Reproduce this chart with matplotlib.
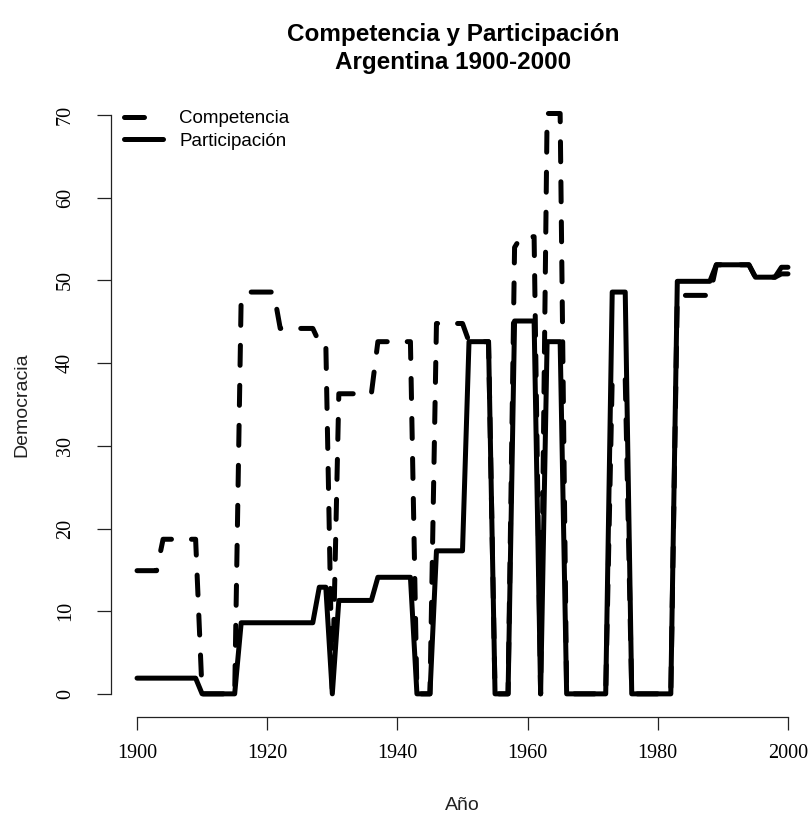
import matplotlib.pyplot as plt

years = list(range(1900, 2001))

competencia = [
    14.9, 14.9, 14.9, 14.9, 18.7, 18.7, 18.7, 18.7, 18.7, 18.7,  # 1900s
    0, 0, 0, 0, 0, 0, 48.0, 48.6, 48.6, 48.6,  # 1910s
    48.6, 48.6, 44.2, 44.2, 44.2, 44.2, 44.2, 44.2, 42.5, 42.5,  # 1920s
    0, 36.3, 36.3, 36.3, 36.3, 36.3, 36.3, 42.6, 42.6, 42.6,  # 1930s
    42.6, 42.6, 42.6, 0, 0, 0, 44.8, 44.8, 44.8, 44.8,  # 1940s
    44.8, 42.6, 42.6, 42.6, 42.6, 0, 0, 0, 54.0, 55.3,  # 1950s
    55.3, 55.3, 0, 70.2, 70.2, 70.2, 0, 0, 0, 0,  # 1960s
    0, 0, 0, 38.1, 38.1, 38.1, 0, 0, 0, 0,  # 1970s
    0, 0, 0, 48.2, 48.2, 48.2, 48.2, 48.2, 48.2, 51.9,  # 1980s
    51.9, 51.9, 51.9, 51.9, 51.9, 50.4, 50.4, 50.4, 50.4, 50.8,  # 1990s
    50.8,
]

participacion = [
    1.9, 1.9, 1.9, 1.9, 1.9, 1.9, 1.9, 1.9, 1.9, 1.9,
    0, 0, 0, 0, 0, 0, 8.6, 8.6, 8.6, 8.6,
    8.6, 8.6, 8.6, 8.6, 8.6, 8.6, 8.6, 8.6, 12.9, 12.9,
    0, 11.3, 11.3, 11.3, 11.3, 11.3, 11.3, 14.1, 14.1, 14.1,
    14.1, 14.1, 14.1, 0, 0, 0, 17.3, 17.3, 17.3, 17.3,
    17.3, 42.6, 42.6, 42.6, 42.6, 0, 0, 0, 45.1, 45.1,
    45.1, 45.1, 0, 42.6, 42.6, 42.6, 0, 0, 0, 0,
    0, 0, 0, 48.6, 48.6, 48.6, 0, 0, 0, 0,
    0, 0, 0, 49.9, 49.9, 49.9, 49.9, 49.9, 49.9, 51.9,
    51.9, 51.9, 51.9, 51.9, 51.9, 50.4, 50.4, 50.4, 50.4, 51.6,
    51.6,
]

x_ticks = [1900, 1920, 1940, 1960, 1980, 2000]
y_ticks = [0, 10, 20, 30, 40, 50, 60, 70]

W, H = 811, 817
fig = plt.figure(figsize=(W / 100, H / 100), dpi=100)
# plot region in pixels: left 111, top 92, bottom 717
ax = fig.add_axes([111 / W, (H - 717) / H, 703 / W, (717 - 92) / H])
ax.set_xlim(1896, 2004)
ax.set_ylim(-2.8, 72.8)

lw = 3.6
ax.plot(years, competencia, color="black", linewidth=lw, dashes=(4, 4),
        dash_capstyle="round", dash_joinstyle="round", label="Competencia")
ax.plot(years, participacion, color="black", linewidth=lw,
        solid_capstyle="round", solid_joinstyle="round", label="Participación")

for side in ["top", "right"]:
    ax.spines[side].set_visible(False)
ax.spines["bottom"].set_bounds(1900, 2000)
ax.spines["left"].set_bounds(0, 70)
for side in ["bottom", "left"]:
    ax.spines[side].set_linewidth(0.9)
    ax.spines[side].set_color("#222222")

ax.set_xticks(x_ticks)
ax.set_yticks(y_ticks)
ax.set_xticklabels([str(t) for t in x_ticks], family="Liberation Serif", fontsize=14.5)
ax.set_yticklabels([str(t) for t in y_ticks], family="Liberation Serif", fontsize=14.5,
                   rotation=90, va="center")
ax.tick_params(axis="x", length=9.5, width=0.9, pad=10, color="#222222")
ax.tick_params(axis="y", length=10, width=0.9, pad=16, color="#222222")

leg = ax.legend(loc="upper left", bbox_to_anchor=(124 / W, 1 - 110 / H),
                bbox_transform=fig.transFigure, frameon=False, borderpad=0,
                borderaxespad=0, labelspacing=0.3, handlelength=2.1,
                handletextpad=0.85, prop={"family": "Liberation Sans", "size": 13.5})

fig.text(453 / W, 1 - 35 / H, "Competencia y Participación", ha="center", va="center",
         family="Liberation Sans", fontweight="bold", fontsize=17.5)
fig.text(453 / W, 1 - 62 / H, "Argentina 1900-2000", ha="center", va="center",
         family="Liberation Sans", fontweight="bold", fontsize=17.5)
fig.text(462 / W, 1 - 805 / H, "Año", ha="center", va="center",
         family="Liberation Sans", fontsize=14, color="#222222")
fig.text(22 / W, 1 - 405 / H, "Democracia", ha="center", va="center", rotation=90,
         family="Liberation Sans", fontsize=14, color="#222222")

fig.savefig("out.png", dpi=100)
